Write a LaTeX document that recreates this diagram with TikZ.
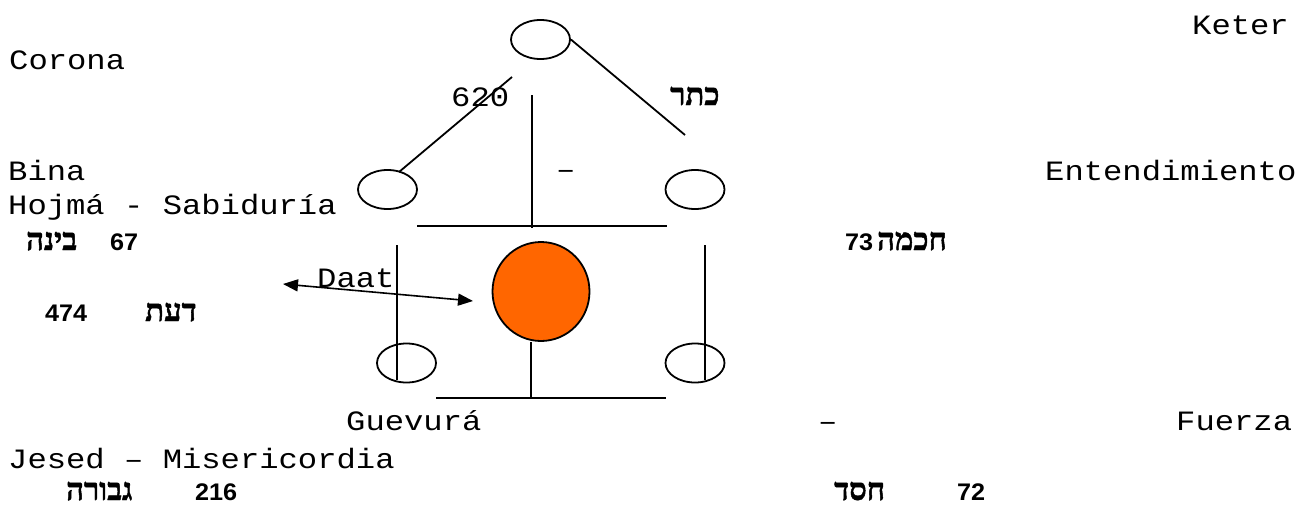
\documentclass[tikz,border=0pt]{standalone}
\usepackage{fontspec}
\usetikzlibrary{shapes.geometric,arrows.meta}
\TeXXeTstate=1
\newfontfamily\monof[FakeStretch=1.15]{Liberation Mono}
\newfontfamily\hebf[Script=Hebrew,FakeBold=1.5]{Liberation Serif Bold}
\newfontfamily\numf[FakeStretch=1.05]{Liberation Sans Bold}
\definecolor{sefOrange}{HTML}{FF6600}
\tikzset{
  mono/.style={anchor=base west, inner sep=0pt, font=\monof\fontsize{28}{30}\selectfont},
  heb/.style={anchor=base west, inner sep=0pt, font=\hebf\fontsize{31}{33}\selectfont},
  num/.style={anchor=base west, inner sep=0pt, font=\numf\fontsize{24}{26}\selectfont},
  sef/.style={ellipse, draw, line width=1.8pt, inner sep=0pt, minimum width=59pt, minimum height=39pt},
  ln/.style={line width=1.8pt}
}
\begin{document}
\begin{tikzpicture}[x=1pt,y=-1pt]
\useasboundingbox (0,0) rectangle (1308,506);
% sefirot
\node[sef] (keter) at (540.5,39.5) {};
\node[sef] (bina) at (387.5,189.5) {};
\node[sef] (hojma) at (695,189.5) {};
\node[sef, fill=sefOrange, minimum width=97pt, minimum height=99pt] (daat) at (541,291.5) {};
\node[sef] (guevura) at (406.5,363) {};
\node[sef] (jesed) at (695,363) {};
% free ends
\coordinate (kr) at (685,135);
\coordinate (kl1) at (512,77);
\coordinate (kl2) at (399,172);
\coordinate (ct) at (532,95);
\coordinate (cb) at (532,228);
\coordinate (hl) at (417,226);
\coordinate (hr) at (667,226);
\coordinate (lt) at (397,245);
\coordinate (lb) at (397,380);
\coordinate (rt) at (705,245);
\coordinate (rb) at (705,380);
\coordinate (bl) at (436,398);
\coordinate (br) at (666,398);
\coordinate (bm) at (531,398);
\coordinate (al) at (283,284);
\coordinate (ar) at (473,301);
% connectors
\draw[ln] (keter.east) -- (kr);
\draw[ln] (kl1) -- (kl2);
\draw[ln] (ct) -- (cb);
\draw[ln] (hl) -- (hr);
\draw[ln] (lt) -- (lb);
\draw[ln] (rt) -- (rb);
\draw[ln] (daat.south -| bm) -- (bm);
\draw[ln] (bl) -- (br);
\draw[line width=1.6pt, {Triangle[length=15pt,width=12pt]}-{Triangle[length=15pt,width=12pt]}] (al) -- (ar);
% texts
\node[mono] (tketer) at (1192,34) {Keter};
\node[mono] (tcorona) at (9,69) {Corona};
\node[mono] (t620) at (451,106) {620};
\node[heb] (tkhtr) at (670,105) {\beginR כתר\endR};
\node[mono] (tdash1) at (556,178) {–};
\node[mono] (tbina) at (8,180) {Bina};
\node[mono] (tent) at (1045,180) {Entendimiento};
\node[mono] (thoj) at (8,214) {Hojmá - Sabiduría};
\node[heb] (hbina) at (26,250) {\beginR בינה\endR};
\node[num] (n67) at (110,250) {67};
\node[num] (n73) at (845,250) {73};
\node[heb] (hhojma) at (877,250) {\beginR חכמה\endR};
\node[mono] (tdaat) at (317,287) {Daat};
\node[num] (n474) at (45,321) {474};
\node[heb] (hdaat) at (145,321) {\beginR דעת\endR};
\node[mono] (tguev) at (346,430) {Guevurá};
\node[mono] (tdash2) at (818,430) {–};
\node[mono] (tfuer) at (1176,430) {Fuerza};
\node[mono] (tjes) at (8,468) {Jesed – Misericordia};
\node[heb] (hguev) at (66,500) {\beginR גבורה\endR};
\node[num] (n216) at (195,500) {216};
\node[heb] (hjes) at (834,500) {\beginR חסד\endR};
\node[num] (n72) at (957,500) {72};
\end{tikzpicture}
\end{document}
